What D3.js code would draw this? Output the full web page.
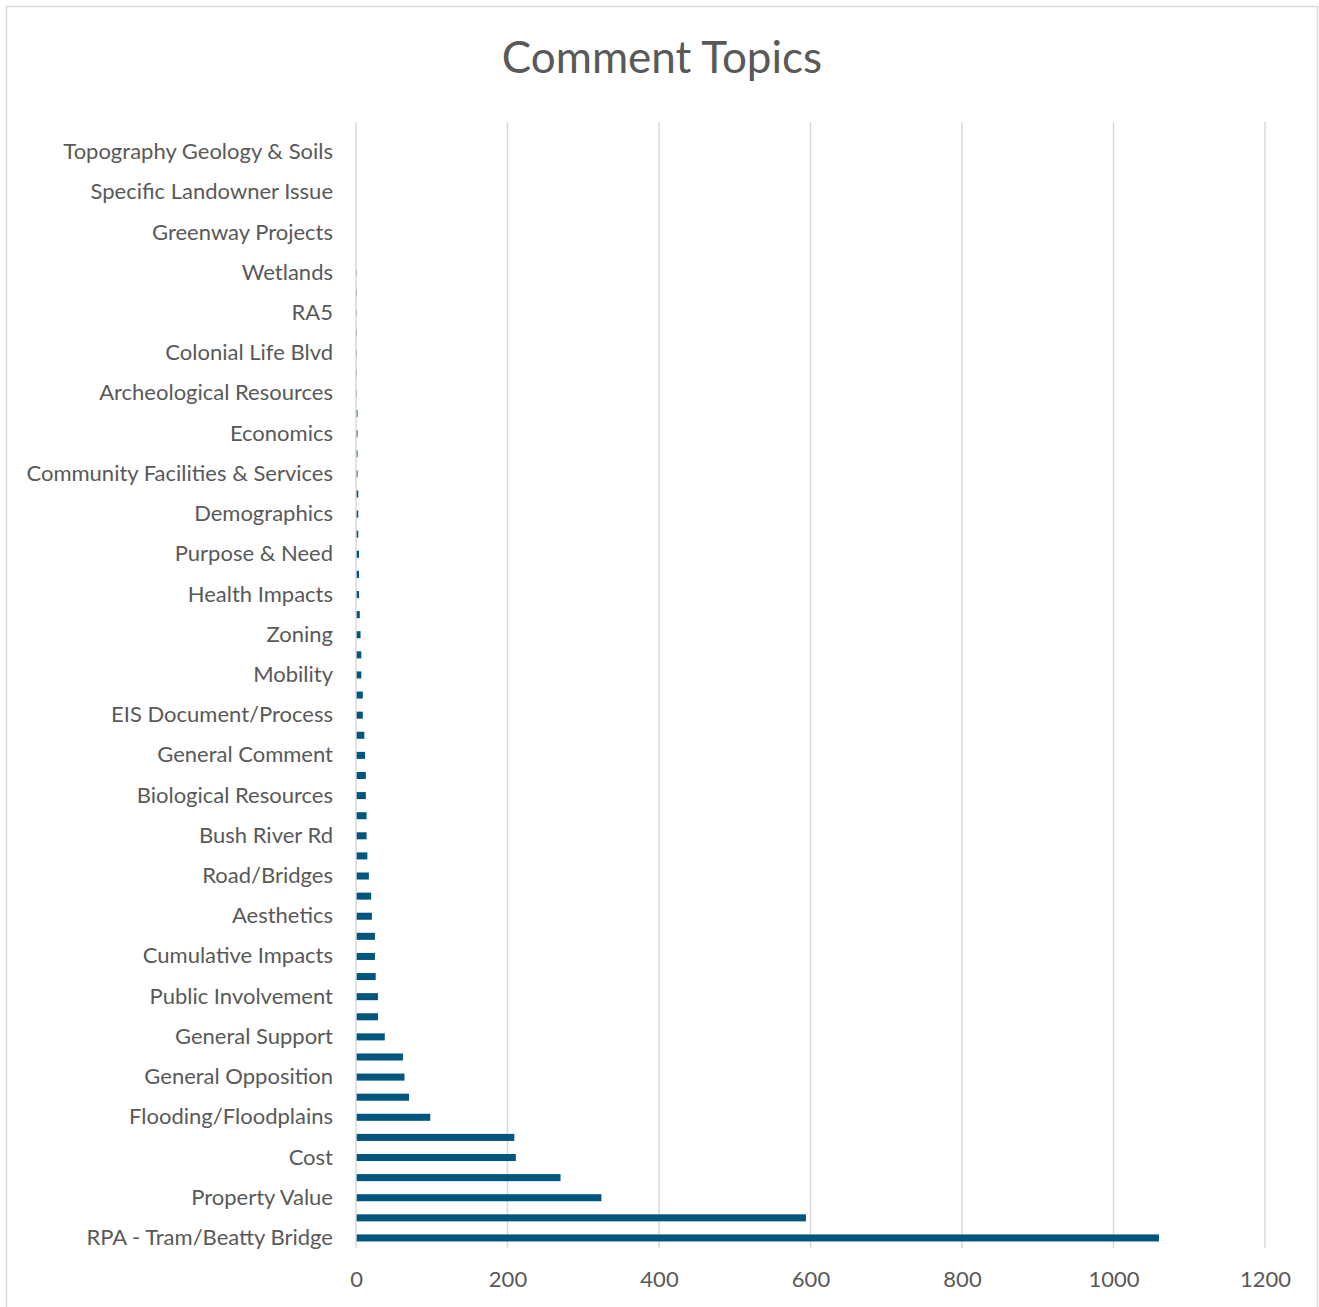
<!DOCTYPE html>
<html>
<head>
<meta charset="utf-8">
<script src="https://cdn.jsdelivr.net/npm/d3@7"></script>
<style>
  html, body { margin: 0; padding: 0; background: #ffffff; }
  svg { display: block; }
</style>
</head>
<body>
<div id="chart"></div>
<script>
// categories from the bottom bar upward; null = label skipped by the axis (not readable)
var categories = [
    'RPA - Tram/Beatty Bridge', null, 'Property Value', null, 'Cost', null,
    'Flooding/Floodplains', null, 'General Opposition', null, 'General Support', null,
    'Public Involvement', null, 'Cumulative Impacts', null, 'Aesthetics', null,
    'Road/Bridges', null, 'Bush River Rd', null, 'Biological Resources', null,
    'General Comment', null, 'EIS Document/Process', null, 'Mobility', null,
    'Zoning', null, 'Health Impacts', null, 'Purpose & Need', null,
    'Demographics', null, 'Community Facilities & Services', null, 'Economics', null,
    'Archeological Resources', null, 'Colonial Life Blvd', null, 'RA5', null,
    'Wetlands', null, 'Greenway Projects', null, 'Specific Landowner Issue', null,
    'Topography Geology & Soils', null
];
var counts = [
    1060, 594, 324, 270, 211, 209,
    98, 70, 64, 62, 38, 29,
    29, 26, 25, 25, 21, 20,
    17, 15, 14, 14, 13, 13,
    12, 11, 9, 9, 7, 7,
    6, 5, 4, 4, 4, 3,
    3, 3, 2, 2, 2, 2,
    1, 1, 1, 1, 1, 1,
    1, 0, 0, 0, 0, 0,
    0, 0
];
var xTicks = [0, 200, 400, 600, 800, 1000, 1200];

var _width = 1319;
var _height = 1307;
var _font = 'Lato, "Open Sans", sans-serif';
var _colorText = '#595959';
var _colorGrid = '#d9d9d9';
var _colorBar = '#01567e';

var svg = d3.select('#chart').append('svg')
    .attr('width', _width)
    .attr('height', _height);

svg.append('rect')
    .attr('x', 6.5).attr('y', 6.5)
    .attr('width', 1311).attr('height', 1302)
    .style('fill', '#ffffff')
    .style('stroke', _colorGrid)
    .style('stroke-width', 1.5);

svg.append('text')
    .attr('x', 662)
    .attr('y', 73)
    .attr('text-anchor', 'middle')
    .attr('font-family', _font)
    .attr('font-size', 44)
    .attr('fill', _colorText)
    .text('Comment Topics');

var idx = d3.range(categories.length);

var x = d3.scaleLinear()
    .domain([0, 1200])
    .range([356, 1265]);

// index 0 sits at the bottom
var y = d3.scaleBand()
    .domain(idx.slice().reverse())
    .range([122, 1248])
    .paddingInner(0.65)
    .paddingOuter(0.325);

// vertical gridlines
svg.append('g').selectAll('line')
    .data(xTicks.slice(1))
    .enter().append('line')
    .attr('x1', function (d) { return x(d); })
    .attr('x2', function (d) { return x(d); })
    .attr('y1', 122)
    .attr('y2', 1248)
    .style('stroke', _colorGrid)
    .style('stroke-width', 1.5);

// bars
svg.append('g').selectAll('rect')
    .data(idx)
    .enter().append('rect')
    .attr('x', x(0))
    .attr('y', function (i) { return y(i); })
    .attr('width', function (i) { return x(counts[i]) - x(0); })
    .attr('height', y.bandwidth())
    .style('fill', _colorBar);

// category axis
var yAxis = svg.append('g')
    .attr('transform', 'translate(' + x(0) + ',0)')
    .call(d3.axisLeft(y)
        .tickSize(0)
        .tickPadding(23)
        .tickFormat(function (i) { return categories[i] || ''; }));
yAxis.select('.domain')
    .attr('d', 'M0,122V1248')
    .style('stroke', _colorGrid)
    .style('stroke-width', 1.5);
yAxis.selectAll('text')
    .attr('font-family', _font)
    .attr('font-size', 22)
    .attr('fill', _colorText);

// value axis
var xAxis = svg.append('g')
    .attr('transform', 'translate(0,1248)')
    .call(d3.axisBottom(x)
        .tickValues(xTicks)
        .tickFormat(d3.format('d'))
        .tickSize(0)
        .tickPadding(23));
xAxis.select('.domain').remove();
xAxis.selectAll('text')
    .attr('font-family', _font)
    .attr('font-size', 22)
    .attr('fill', _colorText);
</script>
</body>
</html>
